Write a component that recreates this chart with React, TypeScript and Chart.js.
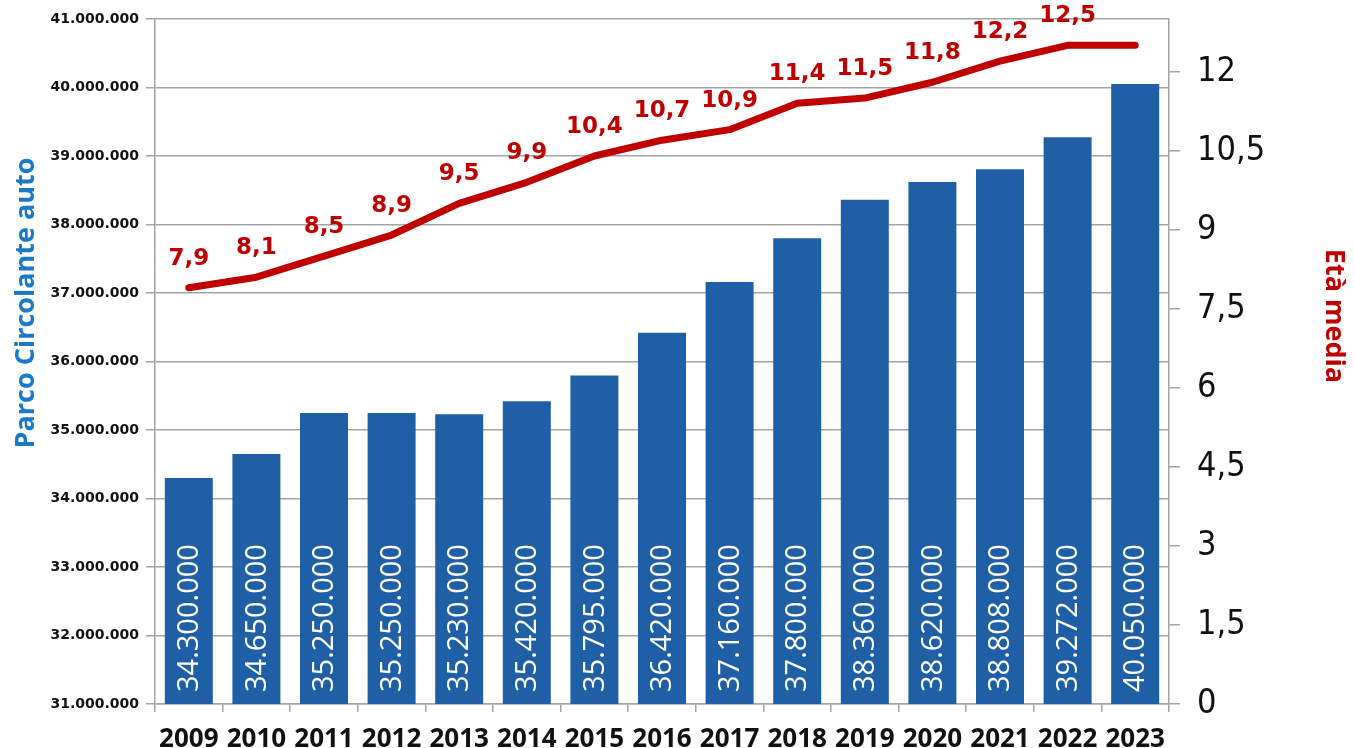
import React, { useEffect, useRef } from "react";
import { Chart, registerables } from "chart.js";

Chart.register(...registerables);

const years = ["2009","2010","2011","2012","2013","2014","2015","2016","2017","2018","2019","2020","2021","2022","2023"];
const fleet = [34300000,34650000,35250000,35250000,35230000,35420000,35795000,36420000,37160000,37800000,38360000,38620000,38808000,39272000,40050000];
const avgAge = [7.9,8.1,8.5,8.9,9.5,9.9,10.4,10.7,10.9,11.4,11.5,11.8,12.2,12.5,12.5];
const ageLabelShown = [true,true,true,true,true,true,true,true,true,true,true,true,true,true,false];
const leftTicks = [31000000,32000000,33000000,34000000,35000000,36000000,37000000,38000000,39000000,40000000,41000000];
const rightTicks = [0,1.5,3,4.5,6,7.5,9,10.5,12];

const leftTitle = "Parco Circolante auto";
const rightTitle = "Età media";

const fmtDots = (v: number) => String(Math.round(v)).replace(/\B(?=(\d{3})+(?!\d))/g, ".");
const fmtComma = (v: number) => String(v).replace(".", ",");

const BLUE = "#1f5fa6";
const RED = "#c00000";
const GRID = "#a3a3a3";

const labelPlugin = {
  id: "customLabels",
  afterDatasetsDraw(chart: any) {
    const ctx = chart.ctx;
    const bottom = chart.chartArea.bottom;
    // bar value labels
    const barMeta = chart.getDatasetMeta(0);
    ctx.save();
    ctx.fillStyle = "#ffffff";
    ctx.font = "29px 'Open Sans', 'Noto Sans', sans-serif";
    ctx.textAlign = "left";
    ctx.textBaseline = "middle";
    barMeta.data.forEach((el: any, i: number) => {
      ctx.save();
      ctx.translate(el.x, bottom - 12);
      ctx.rotate(-Math.PI / 2);
      ctx.fillText(fmtDots(fleet[i]), 0, 1);
      ctx.restore();
    });
    ctx.restore();
    // line labels
    const lineMeta = chart.getDatasetMeta(1);
    ctx.save();
    ctx.fillStyle = RED;
    ctx.font = "bold 23px 'DejaVu Sans', sans-serif";
    ctx.textAlign = "center";
    ctx.textBaseline = "middle";
    lineMeta.data.forEach((pt: any, i: number) => {
      if (!ageLabelShown[i]) return;
      ctx.fillText(fmtComma(avgAge[i]), pt.x, pt.y - 29);
    });
    ctx.restore();
  },
  afterDraw(chart: any) {
    const ctx = chart.ctx;
    ctx.save();
    ctx.font = "bold 27px 'Open Sans', 'Noto Sans', sans-serif";
    ctx.fillStyle = "#1a7ac8";
    ctx.textAlign = "center";
    ctx.textBaseline = "middle";
    ctx.translate(26, 303);
    ctx.rotate(-Math.PI / 2);
    ctx.fillText(leftTitle, 0, 0);
    ctx.restore();

    ctx.save();
    ctx.font = "bold 27px 'Open Sans', 'Noto Sans', sans-serif";
    ctx.fillStyle = RED;
    ctx.textAlign = "center";
    ctx.textBaseline = "middle";
    ctx.translate(1334, 316);
    ctx.rotate(Math.PI / 2);
    ctx.fillText(rightTitle, 0, 0);
    ctx.restore();
  },
};

export default function App() {
  const ref = useRef<HTMLCanvasElement>(null);
  useEffect(() => {
    if (!ref.current) return;
    const chart = new Chart(ref.current, {
      type: "bar",
      data: {
        labels: years,
        datasets: [
          {
            type: "bar",
            data: fleet,
            backgroundColor: BLUE,
            yAxisID: "y",
            categoryPercentage: 1,
            barPercentage: 0.71,
            order: 2,
          } as any,
          {
            type: "line",
            data: avgAge,
            yAxisID: "y1",
            borderColor: RED,
            borderWidth: 7,
            pointRadius: 0,
            borderCapStyle: "round",
            borderJoinStyle: "round",
            tension: 0,
            order: 1,
          } as any,
        ],
      },
      options: {
        responsive: false,
        animation: false,
        layout: { padding: { top: 19, left: 0, right: 0, bottom: 0 } },
        plugins: { legend: { display: false }, tooltip: { enabled: false } },
        scales: {
          x: {
            grid: { offset: true, drawOnChartArea: false, drawTicks: true, tickLength: 8, color: GRID, lineWidth: 1.5 },
            border: { color: GRID, width: 1.5 },
            ticks: {
              color: "#111111",
              font: { family: "'Open Sans', 'Noto Sans', sans-serif", size: 26, weight: "bold" },
              padding: 12,
              maxRotation: 0,
              autoSkip: false,
            },
            afterFit: (s: any) => { s.height = 44; s.paddingLeft = 0; s.paddingRight = 0; },
          },
          y: {
            position: "left",
            min: leftTicks[0],
            max: leftTicks[leftTicks.length - 1],
            afterBuildTicks: (s: any) => { s.ticks = leftTicks.map((v) => ({ value: v })); },
            grid: { color: GRID, lineWidth: 1.5, tickLength: 9 },
            border: { color: GRID, width: 1.5 },
            ticks: {
              color: "#111111",
              font: { family: "'DejaVu Sans', sans-serif", size: 14, weight: "bold" },
              padding: 7,
              callback: (v: any) => fmtDots(Number(v)),
            },
            afterFit: (s: any) => { s.width = 155; s.paddingTop = 0; s.paddingBottom = 0; },
          },
          y1: {
            position: "right",
            min: 0,
            max: 13,
            afterBuildTicks: (s: any) => { s.ticks = rightTicks.map((v) => ({ value: v })); },
            grid: { drawOnChartArea: false, color: GRID, lineWidth: 1.5, tickLength: 11 },
            border: { color: GRID, width: 1.5 },
            ticks: {
              color: "#111111",
              font: { family: "'DejaVu Sans Condensed', 'Liberation Sans Narrow', 'DejaVu Sans', sans-serif", size: 34 },
              padding: 17,
              callback: (v: any) => fmtComma(Number(v)),
            },
            afterFit: (s: any) => { s.width = 185; s.paddingTop = 0; s.paddingBottom = 0; },
          },
        },
      },
      plugins: [labelPlugin],
    });
    return () => chart.destroy();
  }, []);
  return (
    <canvas
      ref={ref}
      width={1354}
      height={748}
      style={{ position: "fixed", left: 0, top: 0, width: 1354, height: 748, display: "block", background: "#ffffff" }}
    />
  );
}
